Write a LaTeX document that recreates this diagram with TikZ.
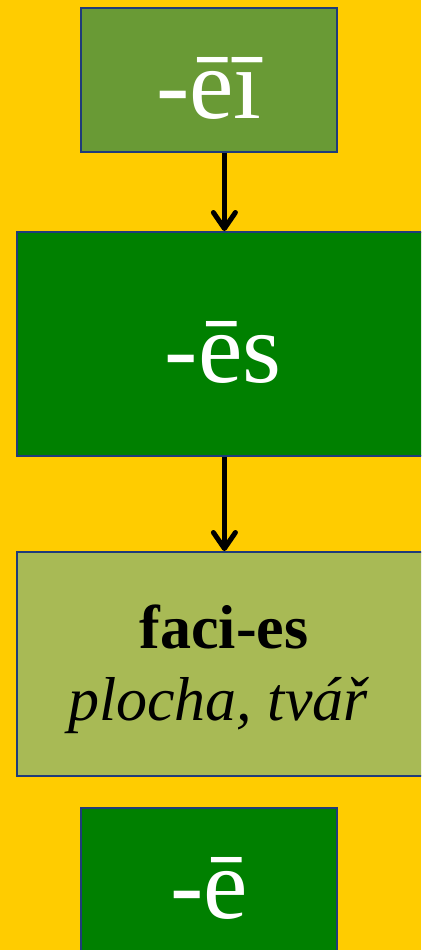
\documentclass[tikz,border=0pt]{standalone}
\usepackage{fontspec}
\setmainfont{Liberation Serif}
\usetikzlibrary{arrows.meta}
\definecolor{bgyellow}{HTML}{FFCC00}
\definecolor{olivegreen}{HTML}{699A35}
\definecolor{puregreen}{HTML}{008000}
\definecolor{lightolive}{HTML}{A8BA55}
\definecolor{edgeblue}{HTML}{1F3C7A}
\tikzset{
  box/.style={draw=edgeblue, line width=1.8pt, rectangle, inner sep=0pt, anchor=north west},
  bigtext/.style={text=white, font=\fontsize{100}{110}\selectfont},
  flow/.style={line width=5pt, -{Straight Barb[length=16pt,width=22pt,line cap=round,line join=round]}}
}
\begin{document}
\begin{tikzpicture}[x=1pt,y=1pt]
\useasboundingbox (0,0) rectangle (421,-950);
\clip (0,0) rectangle (421,-950);
\fill[bgyellow] (0,0) rectangle (421,-950);
\node[box, fill=olivegreen, minimum width=256pt, minimum height=144pt] (b1) at (80,-7) {};
\node[box, fill=puregreen, minimum width=415pt, minimum height=224pt] (b2) at (16,-231) {};
\node[box, fill=lightolive, minimum width=415pt, minimum height=224pt] (b3) at (16,-551) {};
\node[box, fill=puregreen, minimum width=256pt, minimum height=160pt] (b4) at (80,-807) {};
\node[bigtext, anchor=base] (t1) at (209,-118) {-ēī};
\node[bigtext, anchor=base] (t2) at (223,-382) {-ēs};
\node[anchor=base, font=\fontsize{62}{70}\selectfont\bfseries] (t3) at (224,-648) {faci-es};
\node[anchor=base, font=\fontsize{62}{70}\selectfont\itshape] (t4) at (218,-720) {plocha, tvář};
\node[bigtext, anchor=base] (t5) at (209,-918) {-ē};
\draw[flow] (b1.south -| b2.north) -- (b2.north);
\draw[flow] (b2.south) -- (b3.north);
\end{tikzpicture}
\end{document}
